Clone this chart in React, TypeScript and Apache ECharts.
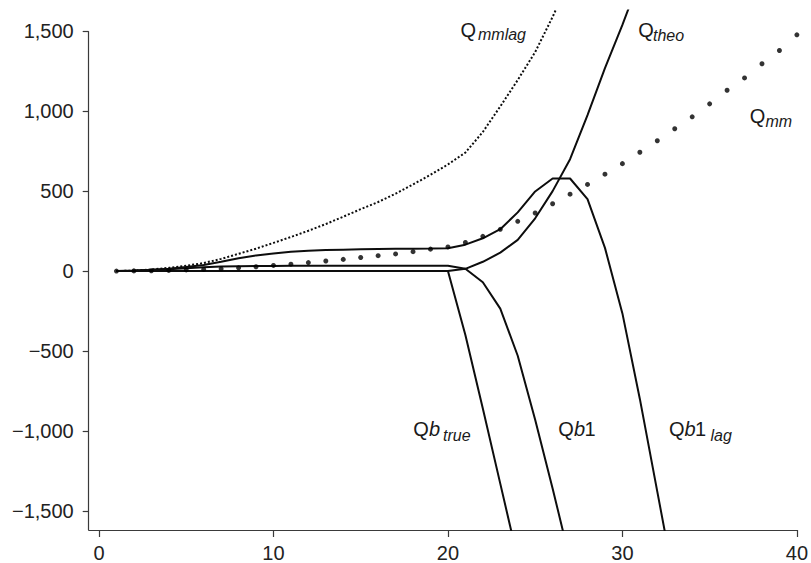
import React, { useEffect, useRef } from "react";
import * as echarts from "echarts";

// x positions (time steps)
const X_VALUES = [1, 2, 3, 4, 5, 6, 7, 8, 9, 10, 11, 12, 13, 14, 15, 16, 17, 18, 19, 20, 21, 22, 23, 24, 25, 26, 27, 28, 29, 30, 31, 32, 33, 34, 35, 36, 37, 38, 39, 40];

// Q_mm (dots)
const Q_MM = [0, 1, 2, 4, 7, 10, 14, 20, 27, 35, 43, 53, 63, 73, 85, 96, 107, 121, 137, 151, 179, 217, 261, 311, 363, 421, 481, 542, 606, 672, 743, 815, 890, 965, 1046, 1131, 1208, 1297, 1380, 1478];
// Q_mmlag (fine dotted)
const Q_MMLAG = [0, 3, 10, 20, 33, 50, 76, 108, 140, 176, 213, 252, 294, 340, 387, 432, 484, 542, 602, 667, 741, 870, 1030, 1195, 1370, 1590, 1830];
// Q_theo
const Q_THEO = [0, 2, 6, 12, 18, 24, 28, 30, 31, 32, 33, 33, 33, 33, 33, 33, 33, 33, 33, 33, 14, 58, 115, 195, 330, 500, 700, 975, 1270, 1540, 1830];
// Qb1_lag
const QB1_LAG = [0, 3, 8, 15, 25, 38, 58, 80, 98, 110, 120, 127, 131, 134, 136, 138, 139, 140, 141, 143, 165, 205, 262, 367, 498, 579, 579, 450, 145, -265, -800, -1380, -1960];
// Qb1
const QB1 = [0, 0, 0, 0, 0, 0, 0, 0, 0, 0, 0, 0, 0, 0, 0, 0, 0, 0, 0, 0, 14, -70, -235, -530, -930, -1360, -1810];
// Qb_true
const QB_TRUE = [0, 0, 0, 0, 0, 0, 0, 0, 0, 0, 0, 0, 0, 0, 0, 0, 0, 0, 0, 0, -400, -860, -1330, -1800];

const X_TICKS = [0, 10, 20, 30, 40];
const Y_TICKS = [-1500, -1000, -500, 0, 500, 1000, 1500];

const X_MIN = -0.59;
const X_MAX = 40;
const Y_MIN = -1620;
const Y_MAX = 1630;
const Y_AXIS_TOP = 1500;

const FONT = '"Liberation Sans", Arial, Helvetica, sans-serif';
const INK = "#0d0d0d";
const AXIS = "#3a3a3a";

// label parts: text, left x, baseline y, font size, italic
type Part = [string, number, number, number, boolean];
const LABELS: Part[][] = [
  [["Q", 460.5, 37.3, 20, false], ["mmlag", 478, 40.5, 16, true]],
  [["Q", 638.3, 37.3, 20, false], ["theo", 653, 41, 16, true]],
  [["Q", 749.7, 122.8, 20, false], ["mm", 765.5, 127, 16, true]],
  [["Q", 413.3, 436.2, 20, false], ["b", 429, 436.2, 20, true], ["true", 443, 441.5, 16, true]],
  [["Q", 558.3, 436.2, 20, false], ["b", 574, 436.2, 20, true], ["1", 584.5, 436.2, 20, false]],
  [["Q", 669, 436.2, 20, false], ["b", 684.5, 436.2, 20, true], ["1", 695, 436.2, 20, false], ["lag", 710.5, 441.5, 16, true]],
];

const pairs = (vals: number[]) => vals.map((v, i) => [X_VALUES[i], v]);

const fmtY = (v: number) => {
  const a = Math.abs(v).toLocaleString("en-US");
  return v < 0 ? "\u2212" + a : a;
};

export default function App() {
  const ref = useRef<HTMLDivElement>(null);
  useEffect(() => {
    if (!ref.current) return;
    const chart = echarts.init(ref.current, undefined, { renderer: "svg" });
    const solid = (name: string, vals: number[]) => ({
      name,
      type: "line",
      data: pairs(vals),
      showSymbol: false,
      symbol: "none",
      clip: true,
      lineStyle: { color: INK, width: 2 },
      emphasis: { disabled: true },
      z: 3,
    });
    const graphics: any[] = [];
    LABELS.forEach((parts) =>
      parts.forEach(([t, x, base, fs, it]) => {
        graphics.push({
          type: "text",
          x,
          y: base - 0.3465 * fs,
          silent: true,
          style: {
            text: t,
            fontSize: fs,
            fontStyle: it ? "italic" : "normal",
            fontFamily: FONT,
            fill: "#1a1a1a",
            align: "left",
            verticalAlign: "middle",
          },
        });
      })
    );
    chart.setOption({
      animation: false,
      backgroundColor: "#ffffff",
      grid: { left: 88.7, right: 12, top: 10.5, bottom: 30.3, containLabel: false },
      xAxis: {
        type: "value",
        min: X_MIN,
        max: X_MAX,
        splitLine: { show: false },
        axisLine: { show: true, onZero: false, lineStyle: { color: AXIS, width: 1.2 } },
        axisTick: { show: true, customValues: X_TICKS, length: 7, inside: false, lineStyle: { color: AXIS, width: 1.2 } },
        axisLabel: {
          customValues: X_TICKS,
          margin: 13,
          fontSize: 20,
          fontFamily: FONT,
          color: "#222",
        },
      },
      yAxis: {
        type: "value",
        min: Y_MIN,
        max: Y_MAX,
        splitLine: { show: false },
        axisLine: { show: false, onZero: false },
        axisTick: { show: true, customValues: Y_TICKS, length: 6, inside: false, lineStyle: { color: AXIS, width: 1.2 } },
        axisLabel: {
          customValues: Y_TICKS,
          margin: 15,
          fontSize: 20,
          fontFamily: FONT,
          color: "#222",
          formatter: (v: number) => fmtY(v),
        },
      },
      series: [
        {
          name: "Qmmlag",
          type: "line",
          data: pairs(Q_MMLAG),
          showSymbol: false,
          symbol: "none",
          clip: true,
          lineStyle: { color: INK, width: 2, type: [2, 2] },
          emphasis: { disabled: true },
          z: 2,
        },
        solid("Qtheo", Q_THEO),
        solid("Qb1lag", QB1_LAG),
        solid("Qb1", QB1),
        solid("Qbtrue", QB_TRUE),
        {
          name: "Qmm",
          type: "scatter",
          data: pairs(Q_MM),
          symbol: "circle",
          symbolSize: 5,
          clip: false,
          itemStyle: { color: "#000" },
          emphasis: { disabled: true },
          z: 4,
          markLine: {
            silent: true,
            symbol: ["none", "none"],
            label: { show: false },
            emphasis: { disabled: true },
            lineStyle: { color: AXIS, width: 1.2, type: "solid" },
            data: [[{ coord: [X_MIN, Y_MIN] }, { coord: [X_MIN, Y_AXIS_TOP] }]],
          },
        },
      ],
      graphic: { elements: graphics },
    });
    return () => chart.dispose();
  }, []);
  return (
    <div
      ref={ref}
      style={{ position: "fixed", left: 0, top: 0, width: 811, height: 563, background: "#fff" }}
    />
  );
}
